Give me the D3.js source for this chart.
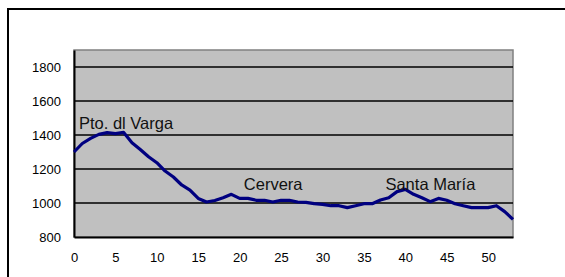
<!DOCTYPE html>
<html>
<head>
<script src="https://d3js.org/d3.v7.min.js"></script>
<style>
  body { margin: 0; background: #fff; }
  svg { display: block; }
</style>
</head>
<body>
<script>
// elevation profile, one point per km
var km = d3.range(0, 54);
var elevation = [1300, 1350, 1380, 1404, 1414, 1408, 1415, 1355, 1315, 1272,
                 1237, 1188, 1153, 1106, 1076, 1027, 1006, 1015, 1031, 1051,
                 1027, 1027, 1016, 1016, 1006, 1016, 1016, 1006, 1004, 996,
                 992, 984, 984, 973, 984, 996, 996, 1018, 1031, 1067,
                 1080, 1051, 1031, 1008, 1027, 1016, 996, 984, 973, 973,
                 973, 984, 949, 904];
var yTicks = [800, 1000, 1200, 1400, 1600, 1800];
var xTicks = [0, 5, 10, 15, 20, 25, 30, 35, 40, 45, 50];
var places = ["Pto. dl Varga", "Cervera", "Santa María"];
var placeKm = [0.6, 20.5, 37.6];
var placeElev = [1435, 1076, 1076];

var w = 565, h = 277;
var padL = 74, padT = 50, padR = 513, padB = 237;

var svg = d3.select("body").append("svg")
  .attr("width", w)
  .attr("height", h);

// outer chart border
svg.append("rect")
  .attr("x", 8).attr("y", 9)
  .attr("width", 570).attr("height", 280)
  .attr("fill", "#fff")
  .attr("stroke", "#000")
  .attr("stroke-width", 2);

var x = d3.scaleLinear().domain([0, 53]).range([padL, padR]);
var y = d3.scaleLinear().domain([800, 1900]).range([padB, padT]);

// plot area
svg.append("rect")
  .attr("x", padL).attr("y", padT)
  .attr("width", padR - padL).attr("height", padB - padT)
  .attr("fill", "#c0c0c0")
  .attr("stroke", "#808080")
  .attr("stroke-width", 1.5);

// gridlines
svg.append("g")
  .selectAll("line")
  .data(yTicks.slice(1))
  .enter().append("line")
    .attr("x1", padL).attr("x2", padR)
    .attr("y1", function(d) { return y(d); })
    .attr("y2", function(d) { return y(d); })
    .attr("stroke", "#000")
    .attr("stroke-width", 1.5);

// axes
var yAxis = svg.append("g")
  .attr("transform", "translate(" + padL + ",0)")
  .call(d3.axisLeft(y).tickValues(yTicks).tickSize(0).tickPadding(13).tickFormat(d3.format("d")));

var xAxis = svg.append("g")
  .attr("transform", "translate(0," + padB + ")")
  .call(d3.axisBottom(x).tickValues(xTicks).tickSize(0).tickPadding(16));

[yAxis, xAxis].forEach(function(a) {
  a.select(".domain").attr("stroke", "#000").attr("stroke-width", 2);
  a.selectAll("text")
    .attr("font-family", "Liberation Sans, Arial, sans-serif")
    .attr("font-size", 13)
    .attr("fill", "#000");
});
yAxis.selectAll("text").attr("dy", "0.35em");

// profile line
var line = d3.line()
  .x(function(d, i) { return x(km[i]); })
  .y(function(d) { return y(d); });

svg.append("path")
  .datum(elevation)
  .attr("d", line)
  .attr("fill", "none")
  .attr("stroke", "#000080")
  .attr("stroke-width", 3.2)
  .attr("stroke-linejoin", "round");

// place labels
svg.append("g")
  .selectAll("text")
  .data(places)
  .enter().append("text")
    .attr("x", function(d, i) { return x(placeKm[i]); })
    .attr("y", function(d, i) { return y(placeElev[i]); })
    .attr("font-family", "Liberation Sans, Arial, sans-serif")
    .attr("font-size", 16.5)
    .attr("fill", "#111")
    .text(function(d) { return d; });
</script>
</body>
</html>
